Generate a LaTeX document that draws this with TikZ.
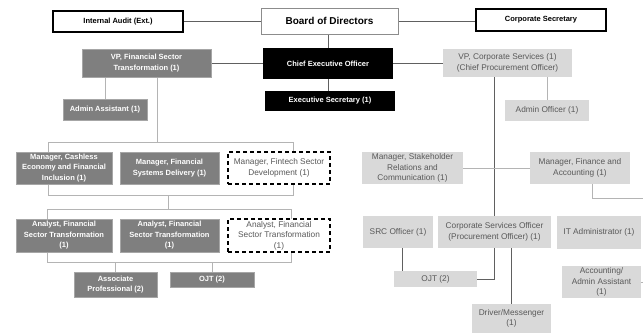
\documentclass[tikz,border=0pt]{standalone}
\usepackage{fontspec}
\setmainfont{Liberation Sans}
\pgfdeclarelayer{background}
\pgfsetlayers{background,main}
\definecolor{dkbox}{HTML}{7F7F7F}
\definecolor{ltbox}{HTML}{D9D9D9}
\definecolor{lttext}{HTML}{595959}
\definecolor{dkline}{HTML}{606060}
\definecolor{ltline}{HTML}{B4B4B4}
\tikzset{
  base/.style={inner sep=1pt, align=center, anchor=center},
  topbox/.style={base, draw=black, line width=1.1pt, fill=white, font=\fontsize{7.5}{10}\selectfont\bfseries},
  boardbox/.style={base, draw=black!45, line width=0.8pt, fill=white, font=\fontsize{10}{12}\selectfont\bfseries},
  blackbox/.style={base, fill=black, text=white, font=\fontsize{7.5}{10}\selectfont\bfseries},
  darkbox/.style={base, fill=dkbox, draw=black!35, line width=0.5pt, text=white, font=\fontsize{7.5}{10.5}\selectfont\bfseries},
  lightbox/.style={base, fill=ltbox, text=lttext, font=\fontsize{8.3}{10.5}\selectfont},
  dashbox/.style={base, fill=white, draw=black, line width=1.2pt, dash pattern=on 4pt off 3pt, text=lttext, font=\fontsize{8.3}{10.5}\selectfont},
  darkconn/.style={draw=dkline, line width=1pt},
  lightconn/.style={draw=ltline, line width=1pt},
}
\newcommand{\bx}[7]{\node[#1, minimum width=#4pt, minimum height=#5pt] (#2) at (#3) {#6};}
\begin{document}
\begin{tikzpicture}[x=1pt,y=-1pt]
\useasboundingbox (0,0) rectangle (643,335);
% top row
\node[topbox, minimum width=130pt, minimum height=21pt] (audit) at (118,21.5) {Internal Audit (Ext.)};
\node[boardbox, minimum width=137pt, minimum height=26pt] (board) at (329.5,21) {Board of Directors};
\node[topbox, minimum width=130pt, minimum height=22pt] (corpsec) at (541,20) {Corporate Secretary};
% executive
\node[blackbox, minimum width=130pt, minimum height=31pt] (ceo) at (328,63.5) {Chief Executive Officer};
\node[blackbox, minimum width=130pt, minimum height=20pt] (execsec) at (330,101) {Executive Secretary (1)};
\node[darkbox, minimum width=129pt, minimum height=28pt] (vpfs) at (146.5,63) {VP, Financial Sector\\Transformation (1)};
\node[lightbox, minimum width=129pt, minimum height=28pt] (vpcs) at (507.5,63) {VP, Corporate Services (1)\\(Chief Procurement Officer)};
\node[darkbox, minimum width=84pt, minimum height=21pt] (adminasst) at (105,109.5) {Admin Assistant (1)};
\node[lightbox, minimum width=84pt, minimum height=21pt] (adminoff) at (547,110.5) {Admin Officer (1)};
% left managers
\node[darkbox, minimum width=96pt, minimum height=32pt] (mcash) at (64,168) {Manager, Cashless\\Economy and Financial\\Inclusion (1)};
\node[darkbox, minimum width=99pt, minimum height=32pt] (mfsd) at (169.5,168) {Manager, Financial\\Systems Delivery (1)};
\node[dashbox, minimum width=102pt, minimum height=32pt] (mfin) at (279,168) {Manager, Fintech Sector\\Development (1)};
% analysts
\node[darkbox, minimum width=96pt, minimum height=33pt] (an1) at (64,235.5) {Analyst, Financial\\Sector Transformation\\(1)};
\node[darkbox, minimum width=99pt, minimum height=33pt] (an2) at (169.5,235.5) {Analyst, Financial\\Sector Transformation\\(1)};
\node[dashbox, minimum width=102pt, minimum height=33pt] (an3) at (279,235.5) {Analyst, Financial\\Sector Transformation\\(1)};
\node[darkbox, minimum width=83pt, minimum height=25pt] (assoc) at (115.5,284.5) {Associate\\Professional (2)};
\node[darkbox, minimum width=84pt, minimum height=15pt] (ojta) at (212,279.5) {OJT (2)};
% right side
\node[lightbox, minimum width=101pt, minimum height=32pt] (mstake) at (412.5,168) {Manager, Stakeholder\\Relations and\\Communication (1)};
\node[lightbox, minimum width=100pt, minimum height=32pt] (mfa) at (580,168) {Manager, Finance and\\Accounting (1)};
\node[lightbox, minimum width=70pt, minimum height=32pt] (src) at (398,232) {SRC Officer (1)};
\node[lightbox, minimum width=113pt, minimum height=32pt] (cso) at (494.5,232) {Corporate Services Officer\\(Procurement Officer) (1)};
\node[lightbox, minimum width=84pt, minimum height=33pt] (itadmin) at (599,232.5) {IT Administrator (1)};
\node[lightbox, minimum width=79pt, minimum height=32pt] (acct) at (601.5,282) {Accounting/\\Admin Assistant\\(1)};
\node[lightbox, minimum width=83pt, minimum height=16pt] (ojtb) at (435.5,279) {OJT (2)};
\node[lightbox, minimum width=79pt, minimum height=29pt] (driver) at (511.5,318.5) {Driver/Messenger\\(1)};
% bus coordinates
\coordinate (busA1) at (48,142);
\coordinate (busA2) at (293,195);
\coordinate (busB1) at (47,209);
\coordinate (busB2) at (291,262);
\coordinate (vpfsdrop) at (157,142);
\coordinate (busAmid) at (168,195);
\coordinate (busBmid) at (168,209);
\coordinate (finright) at (643,198);
\coordinate (acctright) at (643,282);
\begin{pgfonlayer}{background}
\draw[darkconn] (audit.east) -- (audit.east -| board.west);
\draw[darkconn] (board.east) -- (board.east -| corpsec.west);
\draw[darkconn] (ceo.north) -- (ceo.north |- board.south);
\draw[darkconn] (ceo.south) -- (ceo.south |- execsec.north);
\draw[darkconn] (ceo.west) -- (ceo.west -| vpfs.east);
\draw[darkconn] (ceo.east) -- (ceo.east -| vpcs.west);
% left tree
\draw[lightconn] (adminasst.north) -- (adminasst.north |- vpfs.south);
\draw[lightconn] (vpfsdrop |- vpfs.south) -- (vpfsdrop);
\draw[lightconn] (busA1) rectangle (busA2);
\draw[lightconn] (busAmid) -- (busBmid);
\draw[lightconn] (busB1) rectangle (busB2);
\draw[lightconn] (assoc.north) -- (assoc.north |- busB2);
\draw[lightconn] (ojta.north) -- (ojta.north |- busB2);
% right tree
\draw[lightconn] (adminoff.north) -- (adminoff.north |- vpcs.south);
\draw[darkconn] (cso.north) -- (cso.north |- vpcs.south);
\draw[lightconn] (mstake.east) -- (mfa.west);
\draw[lightconn] ([xshift=12pt]mfa.south) |- (finright);
\draw[lightconn] (acct.east) -- (acctright);
\draw[darkconn] ([xshift=4pt]src.south) -- ([xshift=4pt]src.south |- ojtb.north);
\draw[darkconn] (cso.south) |- (ojtb.east);
\draw[darkconn] (driver.north) -- (driver.north |- cso.south);
\end{pgfonlayer}
\end{tikzpicture}
\end{document}
